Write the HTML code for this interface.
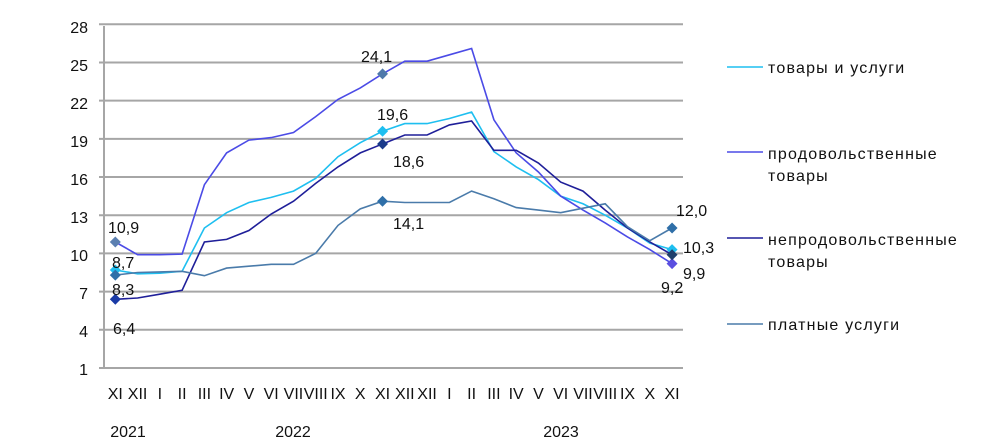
<!DOCTYPE html>
<html><head><meta charset="utf-8"><style>
html,body{margin:0;padding:0;background:#fff}
svg{display:block}
text{font-family:"Liberation Sans",Arial,sans-serif;fill:#111}
</style></head><body>
<svg id="c" width="1000" height="447" viewBox="0 0 1000 447">
<g id="grid" stroke="#a6a6a6" stroke-width="2"></g>
<line x1="104" y1="26" x2="104" y2="369" stroke="#a6a6a6" stroke-width="2"/>
<g font-size="16" text-anchor="end">
<text x="88" y="33">28</text><text x="88" y="71">25</text><text x="88" y="109">22</text>
<text x="88" y="147">19</text><text x="88" y="185">16</text><text x="88" y="223">13</text>
<text x="88" y="261">10</text><text x="88" y="299">7</text><text x="88" y="337">4</text>
<text x="88" y="375">1</text>
</g>
<g id="xl" font-size="16" text-anchor="middle"></g>
<g font-size="16" text-anchor="middle">
<text x="128" y="437">2021</text><text x="293" y="437">2022</text><text x="561" y="437">2023</text>
</g>
<g id="series" fill="none" stroke-width="1.6"></g>
<g id="marks"></g>
<g font-size="16">
<text x="108" y="233">10,9</text>
<text x="112" y="268">8,7</text>
<text x="112" y="295">8,3</text>
<text x="113" y="334">6,4</text>
<text x="361" y="62">24,1</text>
<text x="377" y="120">19,6</text>
<text x="393" y="167">18,6</text>
<text x="393" y="229">14,1</text>
<text x="676" y="216">12,0</text>
<text x="683" y="253">10,3</text>
<text x="683" y="279">9,9</text>
<text x="661" y="293">9,2</text>
</g>
<g stroke-width="1.6">
<line x1="727" y1="67" x2="763" y2="67" stroke="#1ebff0"/>
<line x1="727" y1="152" x2="763" y2="152" stroke="#4b4be6"/>
<line x1="727" y1="238" x2="763" y2="238" stroke="#1f1f99"/>
<line x1="727" y1="324" x2="763" y2="324" stroke="#4a7baa"/>
</g>
<g font-size="16" letter-spacing="1.2">
<text x="768" y="73">товары  и услуги</text>
<text x="768" y="159">продовольственные</text>
<text x="768" y="181">товары</text>
<text x="768" y="245">непродовольственные</text>
<text x="768" y="267">товары</text>
<text x="768" y="330">платные  услуги</text>
</g>
</svg>
<script>
var NS="http://www.w3.org/2000/svg";
function Y(v){return 368-(v-1)*12.73;}
function X(i){return 115.3+i*22.27;}
var g=document.getElementById("grid");
for(var k=0;k<10;k++){var l=document.createElementNS(NS,"line");var y=Y(1+k*3);
l.setAttribute("x1",99);l.setAttribute("x2",683);l.setAttribute("y1",y);l.setAttribute("y2",y);g.appendChild(l);}
var labs=["XI","XII","I","II","III","IV","V","VI","VII","VIII","IX","X","XI","XII","XII","I","II","III","IV","V","VI","VII","VIII","IX","X","XI"];
var xl=document.getElementById("xl");
labs.forEach(function(t,i){var e=document.createElementNS(NS,"text");e.setAttribute("x",X(i));e.setAttribute("y",399);e.textContent=t;xl.appendChild(e);});
var S=[
 {c:"#1ebff0",d:[8.7,8.4,8.45,8.6,12.0,13.2,14.0,14.4,14.9,15.9,17.6,18.7,19.6,20.2,20.2,20.6,21.1,18.0,16.8,15.8,14.5,13.9,13.0,12.0,10.8,10.3],m:["#1ebff0","#1ebff0","#1ebff0"]},
 {c:"#4b4be6",d:[10.9,9.9,9.9,9.95,15.4,17.9,18.9,19.1,19.5,20.75,22.1,23.0,24.1,25.1,25.1,25.6,26.1,20.5,17.9,16.4,14.5,13.4,12.4,11.3,10.3,9.2],m:["#5b7fb0","#4f79aa","#5b4fe0"]},
 {c:"#1f1f99",d:[6.4,6.5,6.8,7.1,10.9,11.1,11.8,13.1,14.1,15.5,16.8,17.9,18.6,19.3,19.3,20.1,20.4,18.1,18.1,17.1,15.6,14.9,13.4,12.0,10.9,9.9],m:["#1a3aa6","#1a3a8a","#1f3f6a"]},
 {c:"#4a7baa",d:[8.3,8.5,8.55,8.6,8.25,8.85,9.0,9.15,9.15,10.0,12.2,13.5,14.1,14.0,14.0,14.0,14.9,14.3,13.6,13.4,13.2,13.55,13.9,12.1,11.0,12.0],m:["#2f6fa8","#2f6fa8","#2f6fa8"]}
];
var sg=document.getElementById("series"),mg=document.getElementById("marks");
S.forEach(function(s){var p=document.createElementNS(NS,"polyline");
p.setAttribute("points",s.d.map(function(v,i){return X(i).toFixed(1)+","+Y(v).toFixed(1);}).join(" "));
p.setAttribute("stroke",s.c);sg.appendChild(p);
[0,12,25].forEach(function(i,j){var x=X(i),y=Y(s.d[i]),r=5.5;var q=document.createElementNS(NS,"polygon");
q.setAttribute("points",x+","+(y-r)+" "+(x+r)+","+y+" "+x+","+(y+r)+" "+(x-r)+","+y);q.setAttribute("fill",s.m[j]);mg.appendChild(q);});
});
</script>
</body></html>
